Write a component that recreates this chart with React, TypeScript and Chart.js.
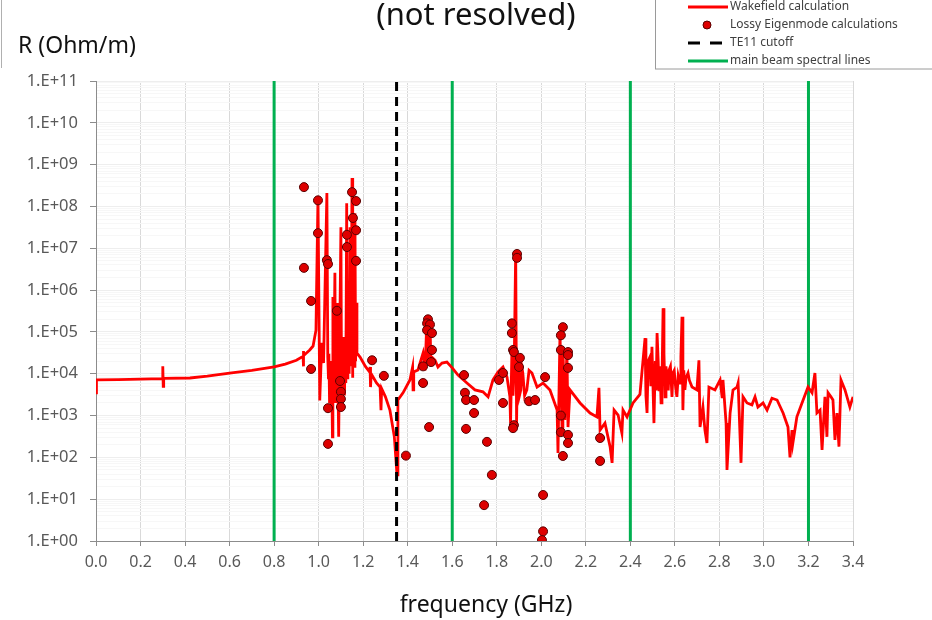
import React, { useEffect, useRef } from "react";
import { Chart, registerables } from "chart.js";

Chart.register(...registerables);

// Wakefield calculation: [frequency (GHz), R (Ohm/m)]
const wakefield: [number, number][] = [
  [0.000, 3.5e3], [0.002, 7.1e3], [0.100, 7.2e3], [0.200, 7.4e3], [0.298, 7.6e3],
  [0.300, 1.5e4], [0.302, 5.0e3], [0.304, 7.7e3], [0.422, 7.9e3], [0.500, 8.8e3],
  [0.600, 1.04e4], [0.700, 1.2e4], [0.800, 1.45e4], [0.850, 1.7e4], [0.900, 2.1e4],
  [0.930, 2.6e4], [0.931, 3.5e4], [0.932, 1.5e4], [0.933, 2.7e4], [0.960, 3.7e4],
  [0.975, 4.6e4], [0.988, 1.1e5], [0.997, 1.6e8], [1.005, 2.3e3], [1.014, 5.5e4],
  [1.022, 1.8e4], [1.037, 2.1e8], [1.041, 2.5e4], [1.044, 8.0e3], [1.046, 3.0e4],
  [1.049, 2.0e3], [1.052, 1.5e4], [1.055, 1.5e3], [1.058, 2.0e4], [1.062, 3.1e2],
  [1.064, 6.8e5], [1.068, 1.0e4], [1.073, 2.6e6], [1.076, 2.0e3], [1.078, 3.0e4],
  [1.080, 1.2e4], [1.084, 4.9e5], [1.087, 4.0e3], [1.089, 2.0e4], [1.091, 3.1e2],
  [1.100, 3.2e7], [1.103, 2.0e3], [1.105, 4.0e4], [1.108, 2.5e4], [1.110, 5.0e3],
  [1.113, 7.6e4], [1.116, 3.0e3], [1.119, 3.0e4], [1.122, 6.0e3], [1.126, 1.2e8],
  [1.128, 8.0e3], [1.131, 2.5e4], [1.134, 2.0e5], [1.137, 1.0e4], [1.141, 3.2e7],
  [1.145, 1.5e4], [1.147, 5.0e5], [1.150, 4.8e8], [1.152, 8.0e3], [1.154, 2.5e4],
  [1.157, 2.0e6], [1.160, 1.5e4], [1.163, 6.9e7], [1.166, 2.0e4], [1.168, 5.0e5],
  [1.172, 3.1e4], [1.186, 2.5e4], [1.210, 1.5e4], [1.229, 1.1e4], [1.231, 1.45e4],
  [1.233, 4.8e3], [1.236, 1.0e4], [1.260, 6.0e3], [1.276, 4.8e3], [1.280, 1.35e3],
  [1.283, 4.4e3], [1.300, 2.8e3], [1.320, 1.35e3], [1.340, 3.1e2], [1.352, 38],
  [1.356, 2.35e3], [1.379, 3.5e3], [1.410, 7.1e3], [1.422, 1.45e4], [1.424, 4.1e3],
  [1.427, 1.1e4], [1.446, 1.23e4], [1.469, 3.1e4], [1.478, 1.2e4], [1.485, 1.3e5],
  [1.489, 1.8e4], [1.494, 6.0e4], [1.500, 2.3e5], [1.504, 1.5e4], [1.508, 2.5e4],
  [1.523, 2.1e4], [1.536, 1.45e4], [1.554, 1.8e4], [1.576, 1.9e4], [1.599, 1.4e4],
  [1.626, 9.3e3], [1.666, 6.0e3], [1.702, 4.1e3], [1.738, 3.7e3], [1.761, 2.8e3],
  [1.783, 7.1e3], [1.806, 1.1e4], [1.828, 1.45e4], [1.846, 8.3e3], [1.859, 2.8e3],
  [1.862, 6.6e2], [1.868, 3.7e4], [1.873, 3.0e3], [1.878, 1.2e4], [1.885, 9.0e6],
  [1.889, 6.6e2], [1.893, 2.0e4], [1.897, 1.45e4], [1.902, 3.0e3], [1.908, 4.1e3],
  [1.912, 1.5e4], [1.917, 1.04e4], [1.925, 3.0e3], [1.935, 4.1e3], [1.945, 1.2e4],
  [1.958, 1.04e4], [1.981, 4.8e3], [2.008, 6.0e3], [2.039, 4.1e3], [2.071, 1.35e3],
  [2.075, 1.27e2], [2.084, 9.4e4], [2.093, 5.3e2], [2.097, 4.4e4], [2.106, 7.8e2],
  [2.115, 3.7e4], [2.120, 5.3e2], [2.129, 4.1e3], [2.174, 2.0e3], [2.219, 1.15e3],
  [2.250, 9.3e2], [2.259, 4.6e3], [2.264, 4.5e2], [2.286, 6.6e2], [2.309, 1.8e2],
  [2.318, 74], [2.327, 1.35e3], [2.345, 1.03e3], [2.362, 3.8e2], [2.367, 1.35e3],
  [2.385, 9.3e2], [2.412, 2.0e3], [2.443, 3.2e3], [2.466, 7.1e4], [2.470, 3.0e3],
  [2.475, 1.15e3], [2.480, 2.0e4], [2.488, 2.5e4], [2.492, 5.0e3], [2.497, 4.4e4],
  [2.506, 6.6e2], [2.512, 2.0e4], [2.516, 4.0e3], [2.520, 9.4e4], [2.525, 2.0e4],
  [2.529, 4.1e3], [2.533, 1.5e4], [2.538, 2.0e3], [2.542, 6.0e3], [2.547, 3.7e5],
  [2.551, 3.0e4], [2.556, 2.8e3], [2.560, 1.5e4], [2.565, 8.3e3], [2.570, 4.0e3],
  [2.574, 1.23e4], [2.580, 1.5e4], [2.587, 2.8e3], [2.591, 1.04e4], [2.597, 1.2e4],
  [2.603, 5.0e3], [2.609, 2.8e3], [2.615, 9.0e3], [2.623, 6.0e3], [2.627, 2.5e4],
  [2.632, 2.3e5], [2.636, 1.35e3], [2.640, 1.2e4], [2.645, 4.1e3], [2.650, 8.0e3],
  [2.659, 1.04e4], [2.665, 7.0e3], [2.677, 4.8e3], [2.699, 4.1e3], [2.708, 2.1e4],
  [2.713, 5.3e2], [2.726, 1.6e3], [2.735, 4.5e2], [2.744, 2.2e2], [2.753, 4.8e3],
  [2.780, 4.1e3], [2.803, 7.1e3], [2.812, 2.8e3], [2.816, 7.1e3], [2.830, 6.6e2],
  [2.834, 50], [2.848, 1.15e3], [2.861, 4.1e3], [2.879, 4.8e3], [2.884, 6.0e3],
  [2.897, 74], [2.906, 2.8e3], [2.924, 2.0e3], [2.946, 1.8e3], [2.960, 2.8e3],
  [2.973, 1.6e3], [2.996, 2.0e3], [3.014, 1.35e3], [3.036, 2.6e3], [3.059, 2.35e3],
  [3.086, 1.15e3], [3.108, 5.3e2], [3.117, 1.0e2], [3.126, 4.5e2], [3.130, 2.2e2],
  [3.148, 9.3e2], [3.171, 2.0e3], [3.198, 4.8e3], [3.216, 3.5e3], [3.229, 1.04e4],
  [3.238, 1.15e3], [3.252, 1.35e3], [3.261, 1.5e2], [3.274, 2.8e3], [3.283, 3.1e2],
  [3.288, 3.5e3], [3.301, 2.8e3], [3.310, 2.35e3], [3.319, 2.6e2], [3.328, 1.15e3],
  [3.337, 1.8e2], [3.346, 7.1e3], [3.364, 4.1e3], [3.386, 1.6e3], [3.400, 2.8e3],
];

// Lossy Eigenmode calculations: [frequency (GHz), R (Ohm/m)]
const eigenmodes: [number, number][] = [
  [0.934, 2.9e8], [0.934, 3.4e6], [0.966, 5.5e5], [0.966, 1.3e4], [0.997, 1.4e8],
  [0.997, 2.3e7], [1.037, 5.2e6], [1.042, 4.2e6], [1.042, 1.5e3], [1.042, 2.1e2],
  [1.082, 3.2e5], [1.096, 6.7e3], [1.100, 3.7e3], [1.100, 2.5e3], [1.100, 1.6e3],
  [1.127, 2.1e7], [1.127, 1.07e7], [1.150, 2.2e8], [1.168, 1.35e8], [1.154, 5.3e7],
  [1.168, 2.7e7], [1.168, 5.0e6], [1.240, 2.1e4], [1.293, 8.9e3], [1.392, 1.1e2],
  [1.491, 2.0e5], [1.487, 1.6e5], [1.500, 1.5e5], [1.487, 1.1e5], [1.509, 9.4e4],
  [1.509, 3.7e4], [1.505, 1.9e4], [1.469, 1.5e4], [1.469, 6.0e3], [1.496, 5.3e2],
  [1.653, 9.3e3], [1.657, 3.5e3], [1.662, 2.35e3], [1.698, 2.35e3], [1.698, 1.15e3],
  [1.662, 4.8e2], [1.756, 2.35e2], [1.778, 38], [1.743, 7.2], [1.810, 7.1e3],
  [1.828, 1.04e4], [1.828, 2.0e3], [1.868, 1.6e5], [1.868, 9.4e4], [1.873, 3.7e4],
  [1.877, 3.3e4], [1.904, 2.4e4], [1.900, 1.45e4], [1.877, 5.9e2], [1.873, 5.0e2],
  [1.945, 2.2e3], [1.972, 2.35e3], [2.017, 8.3e3], [2.008, 12.6], [2.008, 1.7],
  [2.003, 1.05], [1.891, 7.3e6], [1.891, 5.9e6], [2.097, 1.3e5], [2.088, 8.3e4],
  [2.088, 3.7e4], [2.120, 3.3e4], [2.120, 2.8e4], [2.120, 1.38e4], [2.088, 1.0e3],
  [2.088, 4.0e2], [2.120, 3.45e2], [2.120, 2.2e2], [2.097, 1.08e2], [2.264, 2.9e2],
  [2.264, 82],
];

const spectralLines = [0.8, 1.6, 2.4, 3.2];
const te11Cutoff = 1.35;

const xTickValues = [0, 0.2, 0.4, 0.6, 0.8, 1.0, 1.2, 1.4, 1.6, 1.8, 2.0, 2.2, 2.4, 2.6, 2.8, 3.0, 3.2, 3.4];
const yDecades = [1, 1e1, 1e2, 1e3, 1e4, 1e5, 1e6, 1e7, 1e8, 1e9, 1e10, 1e11];
const yDecadeLabels = ["1.E+00", "1.E+01", "1.E+02", "1.E+03", "1.E+04", "1.E+05", "1.E+06", "1.E+07", "1.E+08", "1.E+09", "1.E+10", "1.E+11"];

const legendItems = ["Wakefield calculation", "Lossy Eigenmode calculations", "TE11 cutoff", "main beam spectral lines"];
const chartTitle = "(not resolved)";
const yTitle = "R (Ohm/m)";
const xTitle = "frequency (GHz)";

const FONT = "'Noto Sans', 'DejaVu Sans', sans-serif";
const RED = "#ff0000";
const GREEN = "#00b050";
const DOT_FILL = "#dd0000";
const DOT_EDGE = "#5a0000";

const overlayPlugin = {
  id: "overlay",
  afterDraw(chart: any) {
    const c = chart.ctx as CanvasRenderingContext2D;
    c.save();
    c.fillStyle = "#111";
    c.textBaseline = "alphabetic";
    c.textAlign = "center";
    c.font = `31px ${FONT}`;
    c.fillText(chartTitle, 476, 25);
    c.textAlign = "left";
    c.font = `23px ${FONT}`;
    c.fillText(yTitle, 18, 53);
    c.textAlign = "center";
    c.fillText(xTitle, 486, 612);

    c.strokeStyle = "#b0b0b0";
    c.lineWidth = 1;
    c.beginPath();
    c.moveTo(1.5, 0);
    c.lineTo(1.5, 68);
    c.stroke();

    c.fillStyle = "#ffffff";
    c.fillRect(655, -2, 290, 71);
    c.strokeStyle = "#9a9a9a";
    c.lineWidth = 1;
    c.strokeRect(655.5, -2, 290, 71);
    const rows = [7, 25, 43, 61];
    c.lineWidth = 3;
    c.strokeStyle = RED;
    c.beginPath(); c.moveTo(688, rows[0]); c.lineTo(728, rows[0]); c.stroke();
    c.fillStyle = DOT_FILL;
    c.strokeStyle = DOT_EDGE;
    c.lineWidth = 1;
    c.beginPath(); c.arc(707, rows[1], 4, 0, Math.PI * 2); c.fill(); c.stroke();
    c.strokeStyle = "#000";
    c.lineWidth = 3;
    c.beginPath(); c.moveTo(688, rows[2]); c.lineTo(700, rows[2]); c.moveTo(710, rows[2]); c.lineTo(722, rows[2]); c.stroke();
    c.strokeStyle = GREEN;
    c.beginPath(); c.moveTo(688, rows[3]); c.lineTo(728, rows[3]); c.stroke();
    c.fillStyle = "#404040";
    c.font = `12px ${FONT}`;
    c.textAlign = "left";
    c.textBaseline = "middle";
    legendItems.forEach((t, i) => c.fillText(t, 730, rows[i]));
    c.restore();
  },
};

export default function App() {
  const ref = useRef<HTMLCanvasElement | null>(null);

  useEffect(() => {
    document.body.style.margin = "0";
    const canvas = ref.current;
    if (!canvas) return;
    Chart.defaults.font.family = FONT;

    const vertical = (x: number) => [
      { x, y: yDecades[0] },
      { x, y: yDecades[yDecades.length - 1] },
    ];

    const datasets: any[] = [
      {
        label: legendItems[1],
        data: eigenmodes.map(([x, y]) => ({ x, y })),
        showLine: false,
        pointRadius: 4.5,
        pointBackgroundColor: DOT_FILL,
        pointBorderColor: DOT_EDGE,
        pointBorderWidth: 1,
        order: 0,
      },
      {
        label: legendItems[2],
        data: vertical(te11Cutoff),
        showLine: true,
        borderColor: "#000",
        borderWidth: 3,
        borderDash: [9, 6],
        pointRadius: 0,
        order: 1,
      },
      {
        label: legendItems[0],
        data: wakefield.map(([x, y]) => ({ x, y })),
        showLine: true,
        borderColor: RED,
        borderWidth: 2.8,
        pointRadius: 0,
        tension: 0,
        order: 2,
      },
      ...spectralLines.map((f, i) => ({
        label: i === 0 ? legendItems[3] : "",
        data: vertical(f),
        showLine: true,
        borderColor: GREEN,
        borderWidth: 3,
        pointRadius: 0,
        order: 3,
      })),
    ];

    const chart = new Chart(canvas, {
      type: "scatter",
      data: { datasets },
      plugins: [overlayPlugin],
      options: {
        animation: false,
        responsive: false,
        maintainAspectRatio: false,
        layout: { padding: { left: 0, top: 81, right: 79, bottom: 0 } },
        plugins: {
          legend: { display: false },
          tooltip: { enabled: false },
          title: { display: false },
        },
        scales: {
          x: {
            type: "linear",
            min: 0,
            max: 3.4,
            afterBuildTicks: (scale: any) => {
              scale.ticks = xTickValues.map((v) => ({ value: v }));
            },
            afterFit: (scale: any) => {
              scale.height = 79;
            },
            ticks: {
              autoSkip: false,
              maxRotation: 0,
              padding: 7,
              color: "#595959",
              font: { size: 16 },
              callback: (v: any) => Number(v).toFixed(1),
            },
            grid: {
              color: "#d9d9d9",
              lineWidth: 1,
              tickLength: 5,
              tickColor: "#8c8c8c",
            },
            border: { display: true, color: "#8c8c8c", width: 1 },
          },
          y: {
            type: "logarithmic",
            min: 1,
            max: 1e11,
            afterBuildTicks: (scale: any) => {
              const t: any[] = [];
              yDecades.forEach((d, i) => {
                t.push({ value: d, major: true });
                if (i < yDecades.length - 1) {
                  for (let k = 2; k <= 9; k++) t.push({ value: d * k, major: false });
                }
              });
              scale.ticks = t;
            },
            afterFit: (scale: any) => {
              scale.width = 96;
            },
            ticks: {
              autoSkip: false,
              padding: 12,
              color: "#595959",
              font: { size: 16.5 },
              callback: (v: any) => {
                const i = yDecades.findIndex((d) => Math.abs(Number(v) / d - 1) < 1e-9);
                return i >= 0 ? yDecadeLabels[i] : "";
              },
            },
            grid: {
              color: (ctx: any) => (ctx.tick && ctx.tick.major ? "#eeeeee" : "#f7f7f7"),
              lineWidth: 1,
              tickLength: 6,
              tickColor: (ctx: any) => (ctx.tick && ctx.tick.major ? "#8c8c8c" : "rgba(0,0,0,0)"),
            },
            border: { display: true, color: "#8c8c8c", width: 1 },
          },
        },
      } as any,
    });

    return () => chart.destroy();
  }, []);

  return (
    <div style={{ position: "absolute", left: 0, top: 0, width: 932, height: 620, background: "#fff" }}>
      <canvas ref={ref} width={932} height={620} style={{ display: "block", width: 932, height: 620 }} />
    </div>
  );
}
